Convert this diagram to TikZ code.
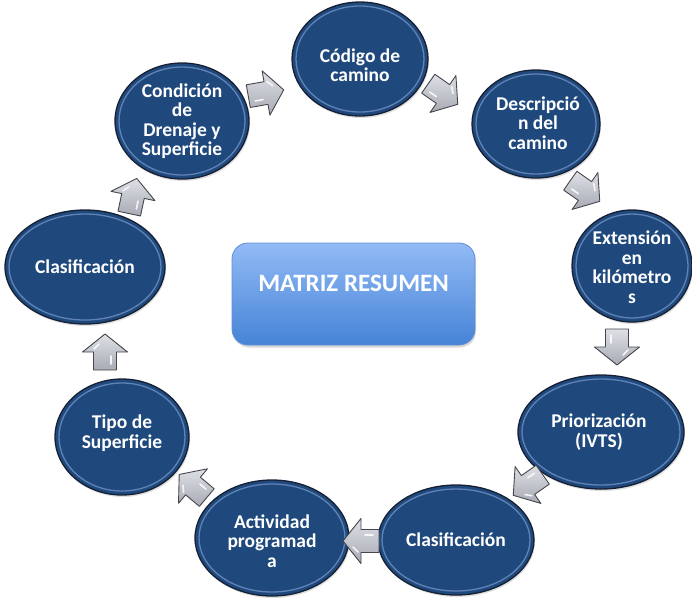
\documentclass[tikz,border=0pt]{standalone}
\usepackage{fontspec}
\setmainfont{Carlito}
\usetikzlibrary{shapes.geometric,shadows,calc}
\definecolor{navy}{RGB}{31,73,125}
\definecolor{rimc}{RGB}{125,155,205}
\definecolor{edgec}{RGB}{22,32,52}
\definecolor{boxtop}{RGB}{146,186,246}
\definecolor{boxbot}{RGB}{70,132,214}
\definecolor{boxedge}{RGB}{96,142,210}
\definecolor{arrtop}{RGB}{222,224,230}
\definecolor{arrbot}{RGB}{168,170,180}
\definecolor{arredge}{RGB}{70,70,76}
\begin{document}
\begin{tikzpicture}[x=1pt,y=-1pt,
  ell/.style={ellipse, draw=edgec, line width=1.3pt, fill=navy, inner sep=0pt,
    drop shadow={opacity=0.25, shadow xshift=1pt, shadow yshift=-2pt}},
  rim/.style={draw=rimc, line width=1.3pt, opacity=0.7},
  txt/.style={text=white, font=\bfseries\fontsize{19.5}{19.5}\selectfont, align=center, inner sep=0pt},
  boxstyle/.style={rectangle, rounded corners=16pt, draw=boxedge, line width=0.8pt,
    top color=boxtop, bottom color=boxbot,
    drop shadow={opacity=0.3, shadow xshift=1pt, shadow yshift=-2.5pt}},
  arrbody/.style={draw=arredge, line width=0.9pt, line join=round, top color=arrtop, bottom color=arrbot},
  blockarr/.pic={
    \path[arrbody] (-18,-11.5) -- (0,-11.5) -- (0,-22.5) -- (18,0) -- (0,22.5) -- (0,11.5) -- (-18,11.5) -- cycle;
    \draw[white, opacity=0.85, line width=1.6pt, line cap=round] (-12,6) -- (-4,6);
    \draw[white, opacity=0.85, line width=1.6pt, line cap=round] (3,-11) -- (8,-6);
  }
]
\useasboundingbox (0,0) rectangle (692,598);

% centre box
\node[boxstyle, minimum width=243pt, minimum height=102pt] (m) at (353.5,294) {};
\node[text=white, font=\bfseries\fontsize{25}{27}\selectfont, inner sep=0pt] (mt) at (353.5,283) {MATRIZ RESUMEN};

% ellipses
\node[ell, minimum width=136pt, minimum height=114pt] (e1) at (360,59) {};
\node[ell, minimum width=128pt, minimum height=108pt] (e2) at (536,124) {};
\node[ell, minimum width=120pt, minimum height=112pt] (e3) at (632,266) {};
\node[ell, minimum width=166pt, minimum height=114pt] (e4) at (601,432) {};
\node[ell, minimum width=156pt, minimum height=110pt] (e5) at (456,540) {};
\node[ell, minimum width=154pt, minimum height=116pt] (e6) at (272,538) {};
\node[ell, minimum width=134pt, minimum height=116pt] (e7) at (122,437) {};
\node[ell, minimum width=160pt, minimum height=114pt] (e8) at (85,267) {};
\node[ell, minimum width=134pt, minimum height=116pt] (e9) at (182,121) {};

% bevel rims
\draw[rim] (e1.center) ellipse [x radius=64pt, y radius=53pt];
\draw[rim] (e2.center) ellipse [x radius=60pt, y radius=50pt];
\draw[rim] (e3.center) ellipse [x radius=56pt, y radius=52pt];
\draw[rim] (e4.center) ellipse [x radius=79pt, y radius=53pt];
\draw[rim] (e5.center) ellipse [x radius=74pt, y radius=51pt];
\draw[rim] (e6.center) ellipse [x radius=73pt, y radius=54pt];
\draw[rim] (e7.center) ellipse [x radius=63pt, y radius=54pt];
\draw[rim] (e8.center) ellipse [x radius=76pt, y radius=53pt];
\draw[rim] (e9.center) ellipse [x radius=63pt, y radius=54pt];

% texts
\node[txt] (t1) at ($(e1.center)+(0,6)$) {Código de\\camino};
\node[txt] (t2) at ($(e2.center)+(2,-1)$) {Descripció\\n del\\camino};
\node[txt] (t3) at ($(e3.center)+(0,1)$) {Extensión\\en\\kilómetro\\s};
\node[txt] (t4) at ($(e4.center)+(-2,0)$) {Priorización\\(IVTS)};
\node[txt] (t5) at (e5.center) {Clasificación};
\node[txt] (t6) at ($(e6.center)+(0,3)$) {Actividad\\programad\\a};
\node[txt] (t7) at ($(e7.center)+(0,-4)$) {Tipo de\\Superficie};
\node[txt] (t8) at (e8.center) {Clasificación};
\node[txt] (t9) at (e9.center) {Condición\\de\\Drenaje y\\Superficie};

% block arrows
\pic[rotate=10] (a1) at (266,93) {blockarr};
\pic[rotate=-35] (a2) at (443,94) {blockarr};
\pic[rotate=-35] (a3) at (585,191) {blockarr};
\pic[rotate=-90] (a4) at (617,347) {blockarr};
\pic[rotate=-145] (a5) at (528,485) {blockarr};
\pic[rotate=180] (a6) at (361,541) {blockarr};
\pic[rotate=140] (a7) at (193,486) {blockarr};
\pic[rotate=90] (a8) at (105,352) {blockarr};
\pic[rotate=78] (a9) at (133,196) {blockarr};
\end{tikzpicture}
\end{document}
